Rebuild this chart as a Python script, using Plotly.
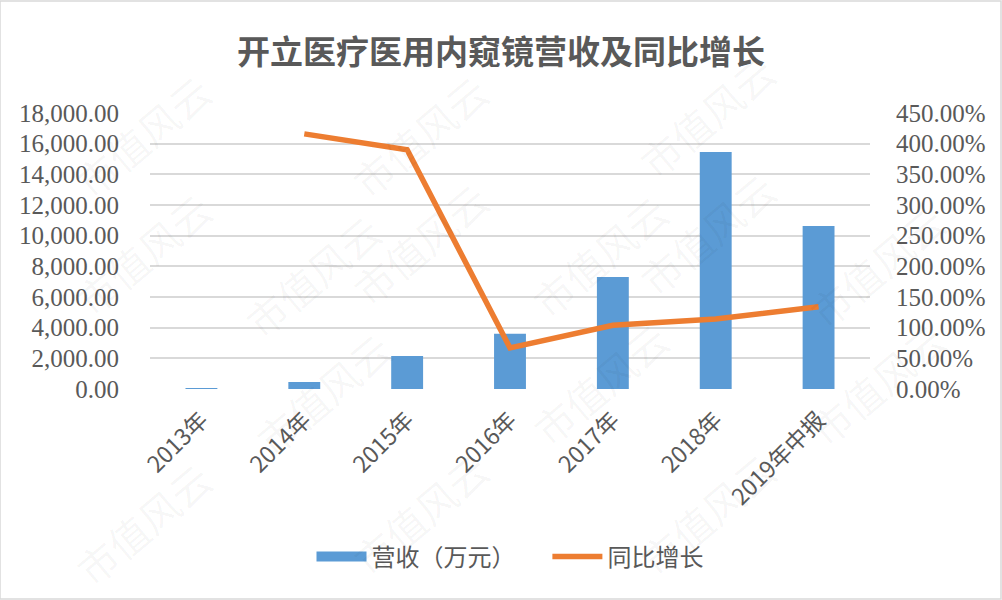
import plotly.graph_objects as go

categories = ["2013年", "2014年", "2015年", "2016年", "2017年", "2018年", "2019年中报"]
revenue = [12, 450, 2150, 3600, 7300, 15450, 10630]
growth_cats = ["2014年", "2015年", "2016年", "2017年", "2018年", "2019年中报"]
growth = [4.16, 3.90, 0.67, 1.04, 1.14, 1.34]

left_ticks = [0, 2000, 4000, 6000, 8000, 10000, 12000, 14000, 16000, 18000]
right_ticks = [0, 0.5, 1.0, 1.5, 2.0, 2.5, 3.0, 3.5, 4.0, 4.5]

TXT = "#595959"
BLUE = "#5b9bd5"
ORANGE = "#ed7d31"
SERIF = "Liberation Serif, Times New Roman, serif"
CJK = "Noto Sans CJK SC, sans-serif"

fig = go.Figure()
fig.add_trace(go.Bar(
    x=categories, y=revenue, name="营收（万元）",
    marker=dict(color=BLUE, line=dict(width=0)),
    yaxis="y", showlegend=False,
))
# legend-only entry giving a wide rectangular swatch like the original
fig.add_trace(go.Scatter(
    x=[None], y=[None], name="营收（万元）&nbsp;&nbsp;&nbsp;&nbsp;&nbsp;", mode="lines",
    line=dict(color=BLUE, width=14), yaxis="y",
))
fig.add_trace(go.Scatter(
    x=growth_cats, y=growth, name="同比增长", mode="lines",
    line=dict(color=ORANGE, width=5.5),
    yaxis="y2",
))

fig.update_layout(
    width=1002, height=600,
    margin=dict(l=150, r=132, t=113, b=211),
    paper_bgcolor="white", plot_bgcolor="white",
    bargap=0.69,
    title=dict(text="<b>开立医疗医用内窥镜营收及同比增长</b>", x=0.5, xanchor="center",
               y=1 - 52 / 600, yanchor="middle",
               font=dict(family=CJK, size=33, color=TXT)),
    xaxis=dict(
        categoryorder="array", categoryarray=categories,
        tickangle=-45, tickfont=dict(family=CJK, size=23, color=TXT),
        showline=False, ticks="", showgrid=False, ticklabelstandoff=12,
    ),
    yaxis=dict(
        range=[0, 18000], tickvals=left_ticks,
        tickformat=",.2f",
        tickfont=dict(family=SERIF, size=25, color=TXT),
        showgrid=True, gridcolor="#d9d9d9", gridwidth=1.5,
        zeroline=False, showline=False, ticks="", ticklabelstandoff=30,
    ),
    yaxis2=dict(
        range=[0, 4.5], tickvals=right_ticks, overlaying="y", side="right",
        tickformat=".2%",
        tickfont=dict(family=SERIF, size=25, color=TXT),
        showgrid=False, zeroline=False, showline=False, ticks="", ticklabelstandoff=25,
    ),
    legend=dict(
        orientation="h", x=0.5, xanchor="center", y=-(557 - 389) / 276, yanchor="middle",
        font=dict(family=CJK, size=24, color=TXT),
        itemwidth=50, traceorder="normal",
    ),
    showlegend=True,
    shapes=[dict(type="rect", xref="paper", yref="paper",
                 x0=-150 / 720, x1=1 + 131 / 720, y0=-210 / 276, y1=1 + 112 / 276,
                 line=dict(color="#d9d9d9", width=1.5), fillcolor="rgba(0,0,0,0)", layer="below")],
)

# faint watermark
wm = [(60, 60), (420, 60), (790, 40), (230, 200), (600, 180), (960, 190),
      (60, 330), (420, 320), (790, 310), (240, 470), (600, 460), (960, 460),
      (60, 600), (420, 590), (790, 590)]
for (px, py) in wm:
    fig.add_annotation(text="市值风云", xref="paper", yref="paper",
                       x=(px - 150) / 720, y=(389 - py) / 276, showarrow=False,
                       textangle=-40, font=dict(family=CJK, size=40, color="rgba(0,0,0,0.04)"))

fig.write_html("out.html")
